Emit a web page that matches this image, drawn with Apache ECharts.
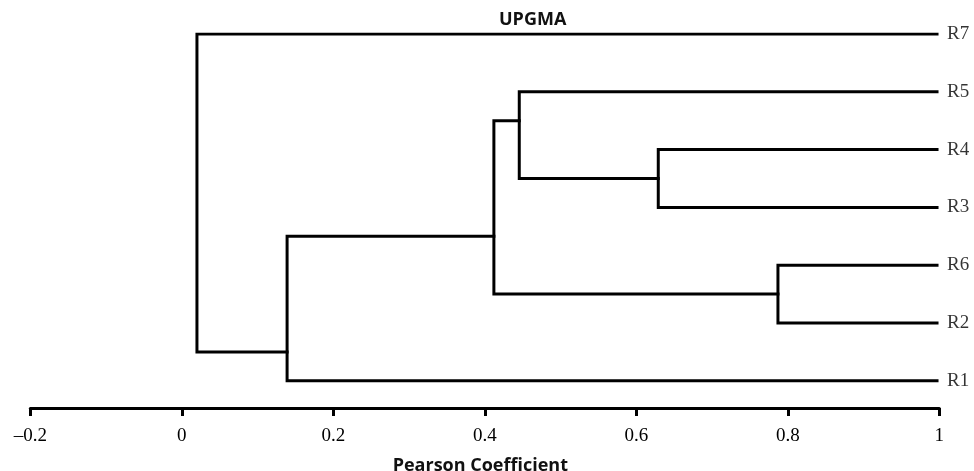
<!DOCTYPE html>
<html>
<head>
<meta charset="utf-8">
<script src="https://cdn.jsdelivr.net/npm/echarts@6/dist/echarts.min.js"></script>
<style>
html,body{margin:0;padding:0;background:#fff;}
#chart{width:974px;height:471px;}
</style>
</head>
<body>
<div id="chart"></div>
<script>
// Leaves, bottom to top, with their vertical slot
const leafNames = ['R1', 'R2', 'R6', 'R3', 'R4', 'R5', 'R7'];
const leafSlots = [0, 1, 2, 3, 4, 5, 6];
const leafCoeff = 0.997;

// Internal nodes (merge order), their children and merge coefficient
const nodeNames = ['A', 'B', 'C', 'D', 'E', 'F'];
const nodeChildren = [['R4', 'R3'], ['R5', 'A'], ['R6', 'R2'], ['B', 'C'], ['D', 'R1'], ['R7', 'E']];
const nodeCoeff = [0.629, 0.4455, 0.787, 0.412, 0.139, 0.020];
const nodeSlot = [3.5, 4.5, 1.5, 2.5, 0.5, 3.25];

// Axis ticks
const xMin = -0.2, xMax = 1, xStep = 0.2;

const pos = {};
leafNames.forEach((n, i) => { pos[n] = [leafCoeff, leafSlots[i]]; });
nodeNames.forEach((n, i) => { pos[n] = [nodeCoeff[i], nodeSlot[i]]; });

const segs = nodeNames.map((n, i) => {
  const [a, b] = nodeChildren[i];
  const pa = pos[a], pb = pos[b], x = nodeCoeff[i];
  return { coords: [[pa[0], pa[1]], [x, pa[1]], [x, pb[1]], [pb[0], pb[1]]] };
});

const chart = echarts.init(document.getElementById('chart'));
chart.setOption({
  animation: false,
  title: {
    text: 'UPGMA', left: 494, top: 6,
    textStyle: { fontFamily: 'Open Sans', fontWeight: 'bold', fontSize: 18, color: '#111' }
  },
  grid: { left: 30.3, right: 34.7, top: 34, bottom: 63, containLabel: false, outerBoundsMode: 'none' },
  xAxis: {
    type: 'value', min: xMin, max: xMax, interval: xStep,
    name: 'Pearson Coefficient', nameLocation: 'middle', nameGap: 49,
    nameTextStyle: { fontFamily: 'Open Sans', fontWeight: 'bold', fontSize: 18, color: '#111', padding: [0, 9, 0, 0] },
    axisLine: { show: true, onZero: false, lineStyle: { color: '#000', width: 3 } },
    axisTick: { show: true, length: 8, lineStyle: { color: '#000', width: 3 } },
    axisLabel: {
      margin: 19, fontFamily: 'Liberation Serif', fontSize: 19, color: '#000',
      formatter: v => String(+(+v).toFixed(1)).replace('-', '\u2013')
    },
    splitLine: { show: false }
  },
  yAxis: {
    type: 'value', min: -0.47, max: 6, show: false, splitLine: { show: false }
  },
  series: [
    {
      type: 'lines', coordinateSystem: 'cartesian2d', polyline: true,
      data: segs, silent: true,
      lineStyle: { color: '#000', width: 3, opacity: 1, join: 'miter', cap: 'square' }
    },
    {
      type: 'scatter', symbolSize: 0, silent: true,
      data: leafNames.map((n, i) => ({ name: n, value: [leafCoeff, leafSlots[i]] })),
      label: {
        show: true, position: 'right', distance: 10, formatter: p => p.name,
        fontFamily: 'Liberation Serif', fontSize: 19, color: '#000'
      }
    }
  ]
});
</script>
</body>
</html>
